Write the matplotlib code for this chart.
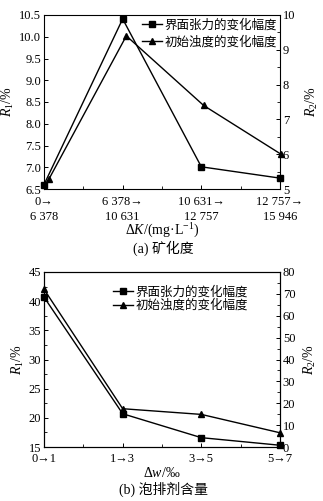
import matplotlib
matplotlib.use("Agg")
import matplotlib.pyplot as plt
from matplotlib.ticker import MultipleLocator, FixedLocator

plt.rcParams['font.family'] = ['Liberation Serif', 'Noto Sans CJK SC', 'DejaVu Sans']
plt.rcParams['mathtext.fontset'] = 'custom'
plt.rcParams['mathtext.rm'] = 'Liberation Serif'
plt.rcParams['mathtext.it'] = 'Liberation Serif:italic'
plt.rcParams['axes.linewidth'] = 0.8

# ---- data panel (a) ----
a_labels = ['0→\n6 378', '6 378→\n10 631', '10 631→\n12 757', '12 757→\n15 946']
a_r1 = [6.6, 10.41, 7.01, 6.75]      # 界面张力的变化幅度 (left axis)
a_r2 = [5.29, 9.4, 7.4, 6.0]         # 初始浊度的变化幅度 (right axis)

# ---- data panel (b) ----
b_labels = ['0→1', '1→3', '3→5', '5→7']
b_r1 = [40.7, 20.7, 16.6, 15.3]
b_r2 = [72.1, 17.5, 14.9, 6.5]

series_names = ['界面张力的变化幅度', '初始浊度的变化幅度']

W, H = 323, 501
fig = plt.figure(figsize=(W / 100, H / 100), dpi=100)

def rect(l, r, t, b):
    return [l / W, 1 - b / H, (r - l) / W, (b - t) / H]

tick_fs = 9
lab_fs = 10
leg_fs = 9

def style_ax(ax):
    ax.tick_params(direction='in', length=3, width=0.7, labelsize=tick_fs, pad=2)
    ax.tick_params(which='minor', direction='in', length=2, width=0.6)

line_kw = dict(color='black', lw=1.0, clip_on=False, zorder=3)

# ================= panel (a) =================
r = rect(44, 280, 15, 189)
ax = fig.add_axes(r)
xs = list(range(len(a_labels)))
h1, = ax.plot(xs, a_r1, marker='s', ms=4.5, **line_kw)
ax.set_xlim(0, 3)
ax.set_ylim(6.5, 10.5)
ax.yaxis.set_major_locator(MultipleLocator(0.5))
ax.yaxis.set_major_formatter(matplotlib.ticker.FormatStrFormatter('%.1f'))
ax.set_xticks(xs)
ax.set_xticklabels(a_labels, linespacing=1.35)
ax.xaxis.set_minor_locator(FixedLocator([0.5, 1.5, 2.5]))
ax.tick_params(top=False, right=False)
style_ax(ax)
ax.tick_params(axis='x', pad=5)
ax.set_ylabel('$R_1$/%', fontsize=lab_fs, labelpad=2)
ax.set_xlabel('Δ$K$/(mg·L$^{-1}$)', fontsize=lab_fs, labelpad=-1)

ax2 = fig.add_axes(r)
ax2.patch.set_visible(False)
h2, = ax2.plot(xs, a_r2, marker='^', ms=5, **line_kw)
ax2.set_xlim(-0.065, 2.987)
ax2.set_ylim(5, 10)
ax2.yaxis.tick_right()
ax2.yaxis.set_label_position('right')
ax2.yaxis.set_major_locator(MultipleLocator(1))
ax2.yaxis.set_minor_locator(MultipleLocator(0.5))
ax2.xaxis.set_visible(False)
for s in ax2.spines.values():
    s.set_visible(False)
style_ax(ax2)
ax2.set_ylabel('$R_2$/%', fontsize=lab_fs, labelpad=6, rotation=90)

leg = ax.legend([h1, h2], series_names, loc='upper left',
                bbox_to_anchor=((142 - 44) / 236, (189 - 19) / 174),
                frameon=False, fontsize=leg_fs, borderpad=0, handlelength=1.6,
                handletextpad=0.2, labelspacing=0.35, borderaxespad=0)
leg.set_zorder(5)

fig.text(163 / W, 1 - 248 / H, '(a) 矿化度', ha='center', va='center', fontsize=lab_fs)

# ================= panel (b) =================
r = rect(44, 280, 272, 447)
bx = fig.add_axes(r)
hb1, = bx.plot(xs, b_r1, marker='s', ms=4.5, **line_kw)
bx.set_xlim(0, 3)
bx.set_ylim(15, 45)
bx.yaxis.set_major_locator(MultipleLocator(5))
bx.yaxis.set_minor_locator(MultipleLocator(2.5))
bx.set_xticks(xs)
bx.set_xticklabels(b_labels)
bx.xaxis.set_minor_locator(FixedLocator([0.5, 1.5, 2.5]))
style_ax(bx)
bx.tick_params(axis='x', pad=4)
bx.set_ylabel('$R_1$/%', fontsize=lab_fs, labelpad=2)
bx.set_xlabel('Δ$w$/‰', fontsize=lab_fs, labelpad=1)

bx2 = bx.twinx()
hb2, = bx2.plot(xs, b_r2, marker='^', ms=5, **line_kw)
bx2.set_ylim(0, 80)
bx2.yaxis.set_major_locator(MultipleLocator(10))
bx2.yaxis.set_minor_locator(MultipleLocator(5))
style_ax(bx2)
bx2.set_ylabel('$R_2$/%', fontsize=lab_fs, labelpad=5, rotation=90)

leg2 = bx.legend([hb1, hb2], series_names, loc='upper left',
                 bbox_to_anchor=((113 - 44) / 236, (447 - 286) / 175),
                 frameon=False, fontsize=leg_fs, borderpad=0, handlelength=1.6,
                 handletextpad=0.2, labelspacing=0.08, borderaxespad=0)
leg2.set_zorder(5)

fig.text(163 / W, 1 - 489 / H, '(b) 泡排剂含量', ha='center', va='center', fontsize=lab_fs)

fig.savefig('out.png', dpi=100)
